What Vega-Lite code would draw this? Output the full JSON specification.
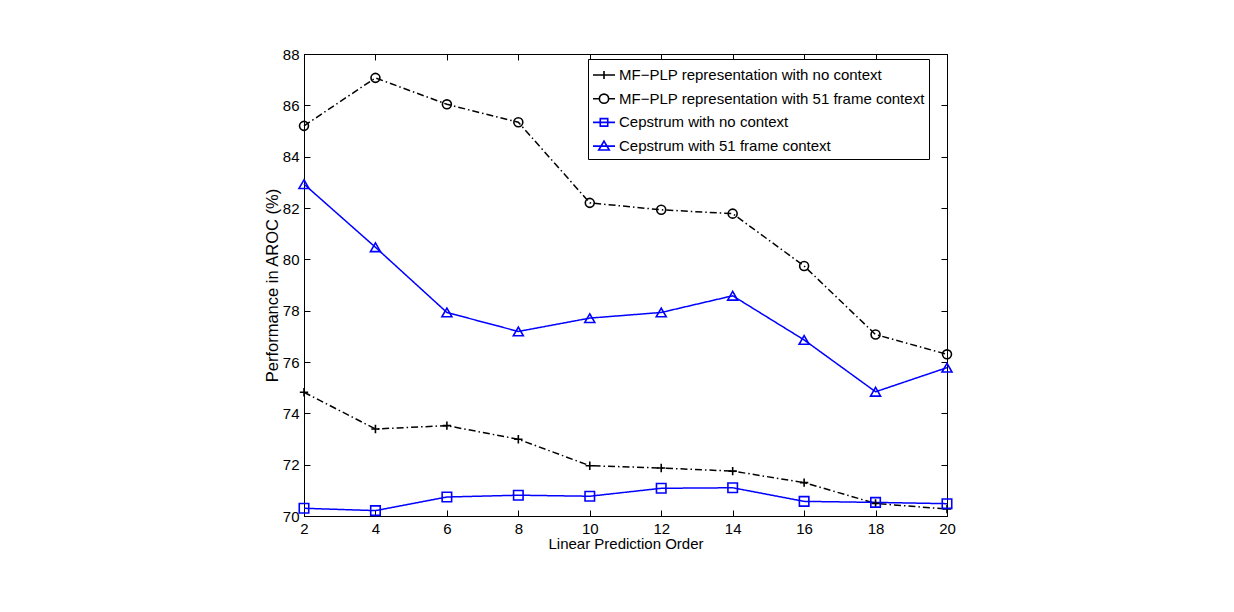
{
  "$schema": "https://vega.github.io/schema/vega-lite/v6.json",
  "width": 643,
  "height": 462,
  "autosize": {"type": "none"},
  "padding": {"left": 304, "top": 54, "right": 287, "bottom": 96},
  "background": "white",
  "config": {
    "font": "Liberation Sans",
    "view": {"stroke": "black", "strokeWidth": 1},
    "axis": {
      "domainColor": "black",
      "domainWidth": 1,
      "tickColor": "black",
      "tickSize": -6,
      "tickWidth": 1,
      "labelFontSize": 15,
      "labelColor": "black",
      "labelPadding": 11,
      "labelFlush": false,
      "labelOverlap": false,
      "grid": false,
      "titleFontSize": 15,
      "titleFontWeight": "normal",
      "titleColor": "black"
    }
  },
  "data": {
    "values": [
      {"series": "MF−PLP representation with no context", "order": 2, "value": 74.82},
      {"series": "MF−PLP representation with no context", "order": 4, "value": 73.39},
      {"series": "MF−PLP representation with no context", "order": 6, "value": 73.52},
      {"series": "MF−PLP representation with no context", "order": 8, "value": 72.99},
      {"series": "MF−PLP representation with no context", "order": 10, "value": 71.96},
      {"series": "MF−PLP representation with no context", "order": 12, "value": 71.87},
      {"series": "MF−PLP representation with no context", "order": 14, "value": 71.75},
      {"series": "MF−PLP representation with no context", "order": 16, "value": 71.30},
      {"series": "MF−PLP representation with no context", "order": 18, "value": 70.49},
      {"series": "MF−PLP representation with no context", "order": 20, "value": 70.27},
      {"series": "MF−PLP representation with 51 frame context", "order": 2, "value": 85.20},
      {"series": "MF−PLP representation with 51 frame context", "order": 4, "value": 87.07},
      {"series": "MF−PLP representation with 51 frame context", "order": 6, "value": 86.04},
      {"series": "MF−PLP representation with 51 frame context", "order": 8, "value": 85.34},
      {"series": "MF−PLP representation with 51 frame context", "order": 10, "value": 82.20},
      {"series": "MF−PLP representation with 51 frame context", "order": 12, "value": 81.93},
      {"series": "MF−PLP representation with 51 frame context", "order": 14, "value": 81.78},
      {"series": "MF−PLP representation with 51 frame context", "order": 16, "value": 79.74},
      {"series": "MF−PLP representation with 51 frame context", "order": 18, "value": 77.07},
      {"series": "MF−PLP representation with 51 frame context", "order": 20, "value": 76.30},
      {"series": "Cepstrum with no context", "order": 2, "value": 70.30},
      {"series": "Cepstrum with no context", "order": 4, "value": 70.21},
      {"series": "Cepstrum with no context", "order": 6, "value": 70.74},
      {"series": "Cepstrum with no context", "order": 8, "value": 70.81},
      {"series": "Cepstrum with no context", "order": 10, "value": 70.77},
      {"series": "Cepstrum with no context", "order": 12, "value": 71.08},
      {"series": "Cepstrum with no context", "order": 14, "value": 71.10},
      {"series": "Cepstrum with no context", "order": 16, "value": 70.57},
      {"series": "Cepstrum with no context", "order": 18, "value": 70.53},
      {"series": "Cepstrum with no context", "order": 20, "value": 70.48},
      {"series": "Cepstrum with 51 frame context", "order": 2, "value": 82.93},
      {"series": "Cepstrum with 51 frame context", "order": 4, "value": 80.47},
      {"series": "Cepstrum with 51 frame context", "order": 6, "value": 77.93},
      {"series": "Cepstrum with 51 frame context", "order": 8, "value": 77.19},
      {"series": "Cepstrum with 51 frame context", "order": 10, "value": 77.71},
      {"series": "Cepstrum with 51 frame context", "order": 12, "value": 77.93},
      {"series": "Cepstrum with 51 frame context", "order": 14, "value": 78.58},
      {"series": "Cepstrum with 51 frame context", "order": 16, "value": 76.86},
      {"series": "Cepstrum with 51 frame context", "order": 18, "value": 74.84},
      {"series": "Cepstrum with 51 frame context", "order": 20, "value": 75.78}
    ]
  },
  "layer": [
    {
      "mark": {"type": "line", "strokeWidth": 1.5, "clip": false},
      "encoding": {
        "x": {"field": "order", "type": "quantitative", "scale": {"domain": [2, 20], "nice": false, "zero": false},
              "axis": {"orient": "bottom", "values": [2, 4, 6, 8, 10, 12, 14, 16, 18, 20], "title": "Linear Prediction Order", "titlePadding": 0}},
        "y": {"field": "value", "type": "quantitative", "scale": {"domain": [70, 88], "nice": false, "zero": false},
              "axis": {"orient": "left", "values": [70, 72, 74, 76, 78, 80, 82, 84, 86, 88], "title": "Performance in AROC (%)", "titleFontSize": 16.5, "titlePadding": 2}},
        "color": {"field": "series", "type": "nominal", "legend": null,
                  "scale": {"domain": ["MF−PLP representation with no context", "MF−PLP representation with 51 frame context", "Cepstrum with no context", "Cepstrum with 51 frame context"],
                            "range": ["#000000", "#000000", "#0000ff", "#0000ff"]}},
        "strokeDash": {"field": "series", "type": "nominal", "legend": null,
                       "scale": {"domain": ["MF−PLP representation with no context", "MF−PLP representation with 51 frame context", "Cepstrum with no context", "Cepstrum with 51 frame context"],
                                 "range": [[7, 3, 1.5, 3], [7, 3, 1.5, 3], [1, 0], [1, 0]]}}
      }
    },
    {
      "mark": {"type": "point", "filled": false, "strokeWidth": 1.6, "opacity": 1, "clip": false},
      "encoding": {
        "x": {"field": "order", "type": "quantitative", "scale": {"domain": [2, 20], "nice": false, "zero": false}, "axis": null},
        "y": {"field": "value", "type": "quantitative", "scale": {"domain": [70, 88], "nice": false, "zero": false}, "axis": null},
        "color": {"field": "series", "type": "nominal", "legend": null,
                  "scale": {"domain": ["MF−PLP representation with no context", "MF−PLP representation with 51 frame context", "Cepstrum with no context", "Cepstrum with 51 frame context"],
                            "range": ["#000000", "#000000", "#0000ff", "#0000ff"]}},
        "shape": {"field": "series", "type": "nominal", "legend": null,
                  "scale": {"domain": ["MF−PLP representation with no context", "MF−PLP representation with 51 frame context", "Cepstrum with no context", "Cepstrum with 51 frame context"],
                            "range": ["M-1,0H1M0,-1V1", "circle", "square", "triangle-up"]}},
        "size": {"field": "series", "type": "nominal", "legend": null,
                 "scale": {"domain": ["MF−PLP representation with no context", "MF−PLP representation with 51 frame context", "Cepstrum with no context", "Cepstrum with 51 frame context"],
                           "range": [70, 100, 64, 121]}}
      }
    },
    {
      "mark": {"type": "point", "filled": false, "opacity": 0, "size": 484, "strokeWidth": 1.6},
      "encoding": {
        "x": {"field": "order", "type": "quantitative", "scale": {"domain": [2, 20], "nice": false, "zero": false},
              "axis": {"orient": "top", "labels": false, "title": null, "values": [2, 4, 6, 8, 10, 12, 14, 16, 18, 20]}},
        "y": {"field": "value", "type": "quantitative", "scale": {"domain": [70, 88], "nice": false, "zero": false},
              "axis": {"orient": "right", "labels": false, "title": null, "values": [70, 72, 74, 76, 78, 80, 82, 84, 86, 88]}},
        "color": {"field": "series", "type": "nominal",
                  "scale": {"domain": ["MF−PLP representation with no context", "MF−PLP representation with 51 frame context", "Cepstrum with no context", "Cepstrum with 51 frame context"],
                            "range": ["#000000", "#000000", "#0000ff", "#0000ff"]},
                  "legend": {
                    "title": null,
                    "orient": "none",
                    "legendX": 284,
                    "legendY": 5,
                    "strokeColor": "black",
                    "fillColor": "white",
                    "padding": 4,
                    "rowPadding": 3.7,
                    "labelFontSize": 15,
                    "labelColor": "black",
                    "labelLimit": 0,
                    "labelOffset": 3,
                    "symbolSize": 484,
                    "symbolStrokeWidth": 1.6,
                    "symbolOpacity": 1,
                    "symbolFillColor": "transparent"
                  }},
        "shape": {"field": "series", "type": "nominal",
                  "scale": {"domain": ["MF−PLP representation with no context", "MF−PLP representation with 51 frame context", "Cepstrum with no context", "Cepstrum with 51 frame context"],
                            "range": ["M-1,0H1M0,-0.36V0.36",
                                      "M-1,0H-0.42M0.42,0H1M-0.42,0A0.42,0.42 0 1,0 0.42,0A0.42,0.42 0 1,0 -0.42,0Z",
                                      "M-1,0H1M-0.34,-0.34H0.34V0.34H-0.34Z",
                                      "M-1,0H1M0,-0.46L0.48,0.36H-0.48Z"]},
                  "legend": {
                    "title": null,
                    "orient": "none",
                    "legendX": 284,
                    "legendY": 5,
                    "strokeColor": "black",
                    "fillColor": "white",
                    "padding": 4,
                    "rowPadding": 3.7,
                    "labelFontSize": 15,
                    "labelColor": "black",
                    "labelLimit": 0,
                    "labelOffset": 3,
                    "symbolSize": 484,
                    "symbolStrokeWidth": 1.6,
                    "symbolOpacity": 1,
                    "symbolFillColor": "transparent"
                  }}
      }
    }
  ],
  "resolve": {
    "scale": {"shape": "independent", "size": "independent", "color": "independent", "strokeDash": "independent"},
    "axis": {"x": "independent", "y": "independent"},
    "legend": {"shape": "independent", "color": "independent"}
  }
}
